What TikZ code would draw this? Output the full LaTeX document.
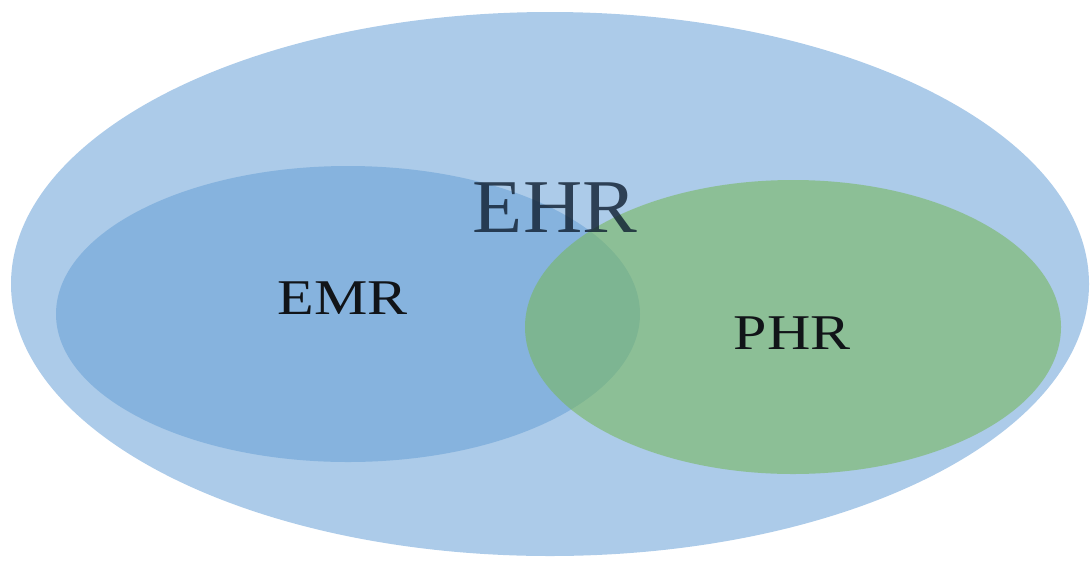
\documentclass[tikz,border=0pt]{standalone}
\usepackage{fontspec}
\setmainfont{Liberation Serif}
\definecolor{outerblue}{HTML}{ACCBE9}
\definecolor{emrblue}{HTML}{82B1DD}
\definecolor{phrgreen}{HTML}{78B760}
\definecolor{ehrtext}{HTML}{0E1E30}
\definecolor{labtext}{HTML}{111418}
\begin{document}
\begin{tikzpicture}[x=1pt,y=-1pt,
  lab/.style={inner sep=0pt, text=labtext, font=\fontsize{50}{50}\selectfont, xscale=1.2}]
\useasboundingbox (0,0) rectangle (1091,560);
\fill[outerblue] (550,284) ellipse [x radius=539, y radius=272];
\fill[emrblue, opacity=0.9] (348,314) ellipse [x radius=292, y radius=148];
\fill[phrgreen, opacity=0.6] (793,327) ellipse [x radius=268, y radius=147];
\node[inner sep=0pt, text=ehrtext, text opacity=0.8, font=\fontsize{76}{76}\selectfont, xscale=1.08] (ehr) at (555,208) {EHR};
\node[lab] (emr) at (343,298) {EMR};
\node[lab] (phr) at (792,333) {PHR};
\end{tikzpicture}
\end{document}
